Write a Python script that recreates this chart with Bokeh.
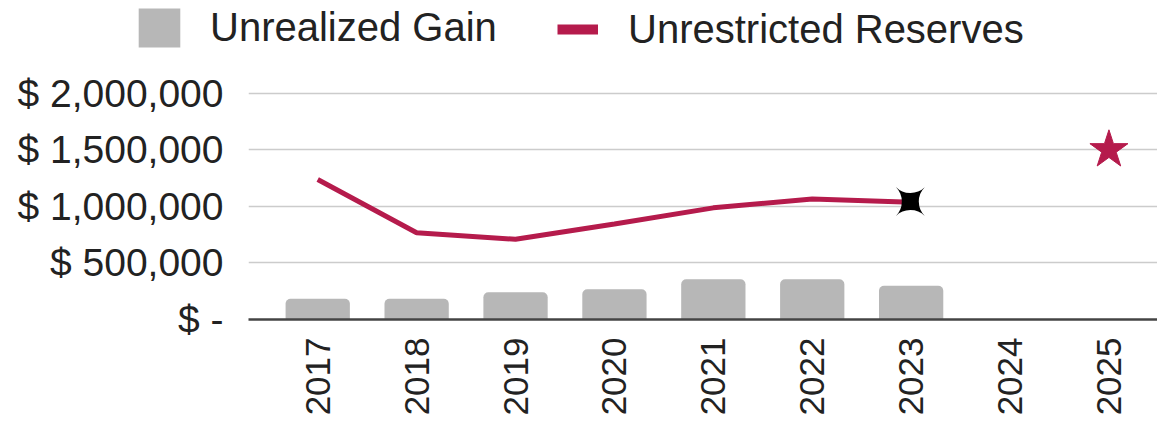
import math
from bokeh.plotting import figure
from bokeh.layouts import column
from bokeh.models import FixedTicker, Legend, LegendItem, Range1d
from bokeh.core.properties import value
from bokeh.embed import file_html
from bokeh.resources import INLINE

# ---- data ----
years = ["2017", "2018", "2019", "2020", "2021", "2022", "2023", "2024", "2025"]
unrealized_gain = [183000, 183000, 240000, 268000, 356000, 356000, 298000, float("nan"), float("nan")]
unrestricted_reserves = [1238000, 767000, 709000, 845000, 987000, 1065000, 1036000, float("nan"), float("nan")]
target_year_index = 8
target_value = 1500000
y_ticks = [0, 500000, 1000000, 1500000, 2000000]
y_tick_labels = ["$ -", "$ 500,000", "$ 1,000,000", "$ 1,500,000", "$ 2,000,000"]
series_names = ["Unrealized Gain", "Unrestricted Reserves"]

GRAY = "#b7b7b7"
CRIMSON = "#b51b4c"
TEXT = "#222222"
FONT = "Liberation Sans"
W = 1157
NAN = float("nan")

xs = list(range(len(years)))

# ---------- legend strip ----------
leg = figure(width=W, height=60, x_range=Range1d(0, 1), y_range=Range1d(0, 1),
             x_axis_type=None, y_axis_type=None, output_backend="svg", toolbar_location=None,
             min_border=0, min_border_left=0, min_border_right=0, min_border_top=0, min_border_bottom=0)
try:
    leg.frame_align = False
except Exception:
    pass
leg.outline_line_color = None
leg.xgrid.visible = False
leg.ygrid.visible = False
leg_bar = leg.vbar(x=[NAN], top=[NAN], width=0.5, fill_color=GRAY, line_color=None)
leg_line = leg.line(x=[NAN], y=[NAN], line_color=CRIMSON, line_width=10)

common = dict(orientation="horizontal", padding=0, margin=0, border_line_color=None,
              background_fill_alpha=0, label_text_font=FONT, label_text_font_size="40px",
              label_text_color=TEXT)
legend1 = Legend(items=[LegendItem(label=series_names[0], renderers=[leg_bar])],
                 location=(133, 8), glyph_width=52, glyph_height=49, label_standoff=25, **common)
legend2 = Legend(items=[LegendItem(label=series_names[1], renderers=[leg_line])],
                 location=(557, 8), glyph_width=41, glyph_height=46, label_standoff=30, **common)
leg.add_layout(legend1, "center")
leg.add_layout(legend2, "center")

# ---------- main chart ----------
p = figure(width=W, height=358,
           x_range=Range1d(-0.700, 8.491), y_range=Range1d(0, 2289500),
           output_backend="svg", toolbar_location=None,
           min_border_left=248, min_border_right=0, min_border_top=0, min_border_bottom=97)
p.outline_line_color = None
p.background_fill_color = "white"
p.border_fill_color = "white"

p.xgrid.grid_line_color = None
p.ygrid.grid_line_color = "#cccccc"
p.ygrid.grid_line_width = 1.5
p.ygrid.ticker = FixedTicker(ticks=y_ticks)

p.yaxis.ticker = FixedTicker(ticks=y_ticks)
p.yaxis.major_label_overrides = {t: l for t, l in zip(y_ticks, y_tick_labels)}
p.yaxis.axis_line_color = None
p.yaxis.major_tick_line_color = None
p.yaxis.major_tick_out = 0
p.yaxis.major_tick_in = 0
p.yaxis.minor_tick_line_color = None
p.yaxis.major_label_standoff = 25
p.yaxis.major_label_text_font = FONT
p.yaxis.major_label_text_font_size = "39px"
p.yaxis.major_label_text_color = TEXT

p.xaxis.ticker = FixedTicker(ticks=xs)
p.xaxis.major_label_overrides = {i: y for i, y in zip(xs, years)}
p.xaxis.major_label_orientation = math.pi / 2
p.xaxis.axis_line_color = "#444444"
p.xaxis.axis_line_width = 2.5
p.xaxis.major_tick_line_color = None
p.xaxis.major_tick_out = 0
p.xaxis.major_tick_in = 0
p.xaxis.minor_tick_line_color = None
p.xaxis.major_label_standoff = 18
p.xaxis.major_label_text_font = FONT
p.xaxis.major_label_text_font_size = "35px"
p.xaxis.major_label_text_color = TEXT

p.vbar(x=xs, top=unrealized_gain, width=0.65, fill_color=GRAY, line_color=None,
       border_radius=(5, 5, 0, 0))

p.line(x=xs, y=unrestricted_reserves, line_color=CRIMSON, line_width=5)

last_idx = max(i for i, v in enumerate(unrestricted_reserves) if v == v)
p.text(x=[xs[last_idx]], y=[unrestricted_reserves[last_idx]], text=["\u2726"],
       angle=math.pi / 4, text_align="center", text_baseline="middle",
       text_font=value("DejaVu Sans"), text_font_size="54px", text_color="black")

p.scatter(x=[xs[target_year_index]], y=[target_value], marker="star", size=40,
          fill_color=CRIMSON, line_color=CRIMSON)

layout = column(leg, p, spacing=0)
open("out.html", "w").write(file_html(layout, INLINE))
